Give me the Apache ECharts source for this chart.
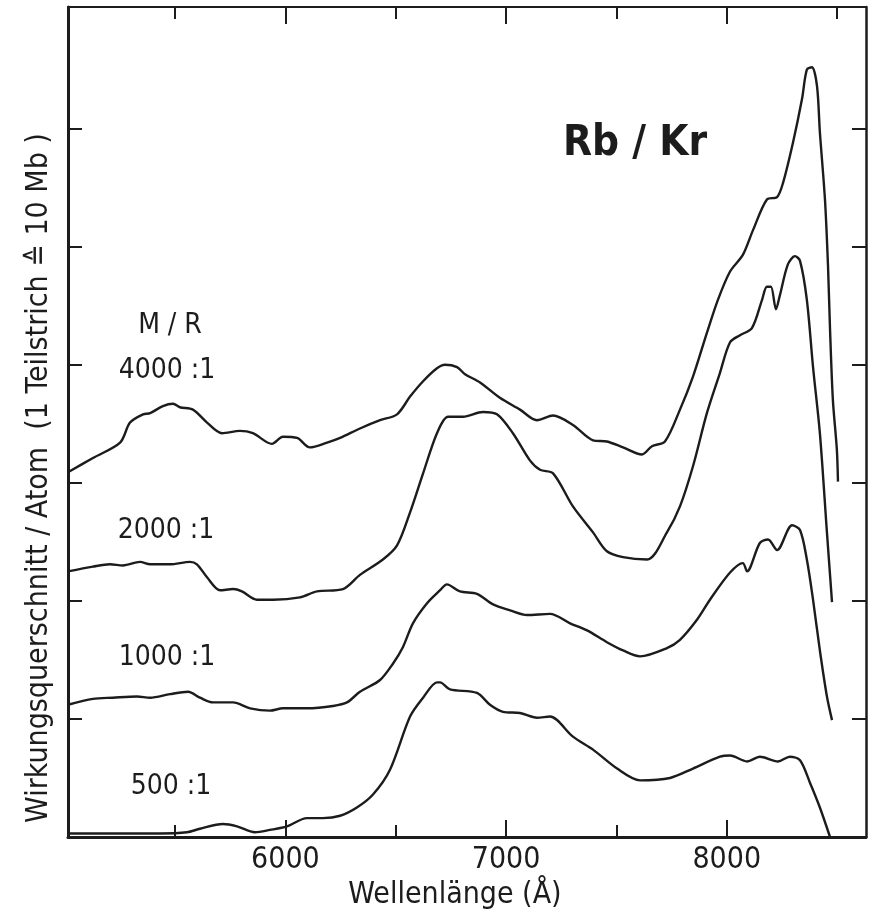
<!DOCTYPE html>
<html><head><meta charset="utf-8">
<script src="https://cdn.jsdelivr.net/npm/echarts@6/dist/echarts.min.js"></script>
<style>html,body{margin:0;padding:0;background:#fff}#c{width:877px;height:916px}</style>
</head><body><div id="c"></div>
<script>
const FONT = '"DejaVu Sans Condensed", "Liberation Sans Narrow", "DejaVu Sans", sans-serif';
const INK = '#1c1c1c';

const seriesNames = ['4000 :1', '2000 :1', '1000 :1', '500 :1'];

const wl4000 = [5015,5128,5251,5296,5355,5387,5445,5491,5522,5581,5645,5713,5794,5853,5939,5989,6053,6111,6189,6248,6338,6429,6506,6565,6624,6687,6723,6778,6814,6882,6972,7063,7140,7213,7303,7394,7457,7530,7616,7661,7720,7788,7847,7910,7960,8015,8073,8119,8182,8228,8255,8300,8341,8363,8386,8409,8422,8445,8459,8468,8481,8499,8504];
const cs4000 = [30.9,32.1,33.4,35.1,35.8,35.9,36.5,36.7,36.4,36.2,35.1,34.2,34.4,34.2,33.3,33.9,33.8,33.0,33.4,33.8,34.6,35.3,35.8,37.3,38.6,39.7,40.0,39.8,39.2,38.5,37.2,36.2,35.3,35.7,34.9,33.6,33.5,33.0,32.4,33.1,33.5,36.2,39.0,42.7,45.5,47.9,49.3,51.4,54.0,54.2,55.4,58.8,62.5,65.0,65.2,63.6,59.7,54.0,48.3,43.0,37.0,32.8,30.1];

const wl2000 = [5015,5128,5205,5264,5341,5387,5477,5568,5599,5645,5704,5763,5803,5871,5944,6066,6143,6261,6338,6442,6506,6565,6624,6687,6737,6805,6895,6959,7031,7108,7154,7213,7303,7394,7457,7530,7639,7729,7788,7847,7910,7969,8015,8060,8114,8160,8182,8200,8223,8241,8277,8309,8332,8363,8391,8422,8454,8477];
const cs2000 = [22.5,22.9,23.1,23.0,23.3,23.1,23.1,23.3,23.1,22.0,20.9,21.0,20.8,20.1,20.1,20.3,20.8,21.0,22.2,23.5,24.7,27.5,30.8,34.2,35.6,35.6,36.0,35.8,34.2,31.9,31.1,30.8,28.0,25.8,24.2,23.7,23.5,25.8,28.0,31.4,35.9,39.3,41.9,42.5,43.1,45.5,46.6,46.6,44.7,45.9,48.5,49.2,48.8,45.5,39.8,34.2,25.8,19.9];

const wl1000 = [5015,5128,5219,5328,5387,5477,5559,5613,5672,5763,5840,5930,5989,6098,6216,6279,6338,6429,6488,6533,6578,6642,6701,6732,6791,6868,6941,7018,7095,7199,7290,7367,7457,7530,7607,7729,7788,7865,7924,8015,8073,8092,8150,8187,8228,8296,8332,8363,8391,8422,8454,8477];
const cs1000 = [11.2,11.7,11.8,11.9,11.8,12.1,12.3,11.8,11.4,11.4,10.9,10.7,10.9,10.9,11.1,11.4,12.3,13.3,14.7,16.1,18.1,19.8,20.9,21.4,20.8,20.6,19.7,19.2,18.8,18.9,18.1,17.5,16.5,15.8,15.3,16.0,16.7,18.4,20.1,22.4,23.2,22.5,24.9,25.2,24.3,26.4,26.0,23.5,20.1,15.8,11.9,9.9];

const wl500 = [5015,5128,5282,5432,5554,5613,5717,5781,5862,5930,6007,6098,6170,6248,6324,6397,6474,6565,6624,6687,6701,6746,6868,6927,6986,7063,7140,7199,7303,7394,7503,7607,7743,7847,7969,8015,8092,8150,8232,8286,8332,8377,8422,8468];
const cs500 = [0.3,0.3,0.3,0.3,0.4,0.7,1.1,0.9,0.4,0.6,0.9,1.6,1.6,1.8,2.5,3.6,5.7,10.2,11.8,13.1,13.1,12.5,12.2,11.2,10.6,10.5,10.1,10.2,8.5,7.4,5.8,4.8,5.0,5.8,6.8,6.9,6.4,6.8,6.4,6.8,6.5,4.6,2.5,0];

const xMajorTicks = [6000, 7000, 8000];
const xMinorTicksTop = [5500, 6500, 7500, 8500];
const xMinorTicksBottom = [5500, 6500, 7500];
const xTickLabels = [6000, 7000, 8000];
const yTicks = [10, 20, 30, 40, 50, 60];
const xRange = [5015, 8631];
const yRange = [0, 70.3];

const xTitle = 'Wellenlänge (Å)';
const yTitle = 'Wirkungsquerschnitt / Atom  (1 Teilstrich \u2259 10 Mb )';
const plotTitle = 'Rb / Kr';
const groupTitle = 'M / R';

const zip = (a, b) => a.map((v, i) => [v, b[i]]);
const seriesData = [zip(wl4000, cs4000), zip(wl2000, cs2000), zip(wl1000, cs1000), zip(wl500, cs500)];

function xAxisDef(pos, ticks, len, lineW, extra) {
  return Object.assign({
    type: 'value', position: pos, min: xRange[0], max: xRange[1],
    axisLine: { show: lineW > 0, onZero: false, lineStyle: { color: INK, width: lineW || 1 } },
    axisTick: { show: true, inside: true, length: len, customValues: ticks, lineStyle: { color: INK, width: 2 } },
    axisLabel: { show: false },
    splitLine: { show: false }
  }, extra || {});
}

const chart = echarts.init(document.getElementById('c'), null, { renderer: 'canvas' });
chart.setOption({
  backgroundColor: '#ffffff',
  animation: false,
  grid: { left: 68, top: 7, width: 798, height: 830 },
  xAxis: [
    xAxisDef('bottom', xMajorTicks, 17, 3, {
      axisLabel: { show: true, customValues: xTickLabels, formatter: v => String(v), fontSize: 30, fontFamily: FONT, color: INK, margin: 8 },
      name: xTitle, nameLocation: 'middle', nameGap: 36,
      nameTextStyle: { fontSize: 30, fontFamily: FONT, color: INK, padding: [0, 24, 0, 0] }
    }),
    xAxisDef('bottom', xMinorTicksBottom, 12, 0),
    xAxisDef('top', xMajorTicks, 17, 2),
    xAxisDef('top', xMinorTicksTop, 12, 0)
  ],
  yAxis: [
    { type: 'value', position: 'left', min: yRange[0], max: yRange[1],
      axisLine: { show: true, onZero: false, lineStyle: { color: INK, width: 3 } },
      axisTick: { show: true, inside: true, length: 14, customValues: yTicks, lineStyle: { color: INK, width: 2 } },
      axisLabel: { show: false }, splitLine: { show: false },
      name: yTitle, nameLocation: 'middle', nameRotate: 90, nameGap: 14,
      nameTextStyle: { fontSize: 30, fontFamily: FONT, color: INK, padding: [0, 112, 0, 0] } },
    { type: 'value', position: 'right', min: yRange[0], max: yRange[1],
      axisLine: { show: true, onZero: false, lineStyle: { color: INK, width: 2.5 } },
      axisTick: { show: true, inside: true, length: 14, customValues: yTicks, lineStyle: { color: INK, width: 2 } },
      axisLabel: { show: false }, splitLine: { show: false } }
  ],
  series: seriesNames.map((n, i) => ({
    name: n, type: 'line', xAxisIndex: 0, yAxisIndex: 0,
    data: seriesData[i], smooth: 0.3, symbol: 'none',
    lineStyle: { color: INK, width: 2.4 }
  })),
  graphic: [
    { type: 'text', x: 635, y: 144, style: { text: plotTitle, font: 'bold 42px ' + FONT, fill: INK, align: 'center', verticalAlign: 'middle' } },
    { type: 'text', x: 170, y: 326, style: { text: groupTitle, font: '28px ' + FONT, fill: INK, align: 'center', verticalAlign: 'middle' } },
    { type: 'text', x: 167, y: 371, style: { text: seriesNames[0], font: '28px ' + FONT, fill: INK, align: 'center', verticalAlign: 'middle' } },
    { type: 'text', x: 166, y: 531, style: { text: seriesNames[1], font: '28px ' + FONT, fill: INK, align: 'center', verticalAlign: 'middle' } },
    { type: 'text', x: 167, y: 658, style: { text: seriesNames[2], font: '28px ' + FONT, fill: INK, align: 'center', verticalAlign: 'middle' } },
    { type: 'text', x: 171, y: 787, style: { text: seriesNames[3], font: '28px ' + FONT, fill: INK, align: 'center', verticalAlign: 'middle' } }
  ]
});
</script></body></html>
